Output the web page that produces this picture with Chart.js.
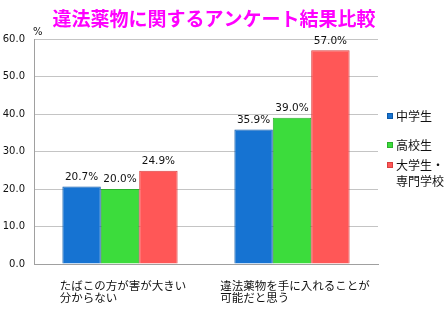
<!DOCTYPE html>
<html>
<head>
<meta charset="utf-8">
<script src="https://cdn.jsdelivr.net/npm/chart.js@4/dist/chart.umd.min.js"></script>
<style>
  html,body{margin:0;padding:0;background:#fff;overflow:hidden;}
  #wrap{width:448px;height:336px;}
</style>
</head>
<body>
<div id="wrap"><canvas id="c" width="448" height="336"></canvas></div>
<script>
// データ
const TITLE = '違法薬物に関するアンケート結果比較';
const categories = [['たばこの方が害が大きい','分からない'], ['違法薬物を手に入れることが','可能だと思う']];
const seriesNames = [['中学生'], ['高校生'], ['大学生・','専門学校']];
const juniorHigh = [20.7, 35.9];
const highSchool = [20.0, 39.0];
const university = [24.9, 57.0];
const yMin = 0, yMax = 60, yStep = 10;
const yUnit = '%';

const COLORS = {
  blue:'#1673d2', blueEdge:'#0d5aa8',
  green:'#3cdc3c', greenEdge:'#2bb02b',
  red:'#ff5757', redEdge:'#d94040',
  grid:'#c4c4c4',
  text:'#111',
  title:'#ff00ff'
};
const JP = '"Noto Sans CJK JP", sans-serif';
const NUM = '"DejaVu Sans", sans-serif';

// タイトル・単位
const titlePlugin = {
  id:'titleText',
  afterDraw(chart){
    const ctx = chart.ctx;
    ctx.save();
    ctx.fillStyle = COLORS.title;
    ctx.font = 'bold 19px ' + JP;
    ctx.textAlign = 'center';
    ctx.textBaseline = 'middle';
    ctx.fillText(TITLE, 214, 19);
    ctx.fillStyle = COLORS.text;
    ctx.font = '10px ' + NUM;
    ctx.textAlign = 'left';
    ctx.fillText(yUnit, 33, 32);
    ctx.restore();
  }
};

// 値ラベル
const valuePlugin = {
  id:'valueLabels',
  afterDatasetsDraw(chart){
    const ctx = chart.ctx;
    ctx.save();
    ctx.fillStyle = COLORS.text;
    ctx.font = '10.5px ' + NUM;
    ctx.textAlign = 'center';
    ctx.textBaseline = 'bottom';
    chart.data.datasets.forEach((ds,i)=>{
      chart.getDatasetMeta(i).data.forEach((bar,j)=>{
        ctx.fillText(ds.data[j].toFixed(1)+'%', bar.x, bar.y-4);
      });
    });
    ctx.restore();
  }
};

// カテゴリラベル (左揃え)
const catPlugin = {
  id:'catLabels',
  afterDraw(chart){
    const ctx = chart.ctx;
    const xs = chart.scales.x;
    ctx.save();
    ctx.fillStyle = COLORS.text;
    ctx.font = '11.5px ' + JP;
    ctx.textAlign = 'left';
    ctx.textBaseline = 'middle';
    categories.forEach((lines,i)=>{
      const cx = xs.getPixelForValue(i);
      const w = Math.max(...lines.map(l=>ctx.measureText(l).width));
      lines.forEach((l,k)=> ctx.fillText(l, cx - w/2 + 3, 286 + k*12));
    });
    ctx.restore();
  }
};

// 凡例
const legendPlugin = {
  id:'sideLegend',
  afterDraw(chart){
    const ctx = chart.ctx;
    const rows = [116, 145, 165];
    ctx.save();
    ctx.font = '12px ' + JP;
    ctx.textBaseline = 'middle';
    chart.data.datasets.forEach((ds,i)=>{
      const y = rows[i];
      ctx.fillStyle = ds.backgroundColor;
      ctx.fillRect(387, y-3, 6, 6);
      ctx.strokeStyle = ds.borderColor;
      ctx.lineWidth = 1;
      ctx.strokeRect(387.5, y-2.5, 5, 5);
      ctx.fillStyle = COLORS.text;
      seriesNames[i].forEach((t,k)=> ctx.fillText(t, 396, y + k*16));
    });
    ctx.restore();
  }
};

new Chart(document.getElementById('c'), {
  type:'bar',
  data:{
    labels:categories.map(l=>l.join('')),
    datasets:[
      {label:seriesNames[0].join(''), data:juniorHigh, backgroundColor:COLORS.blue, borderColor:COLORS.blueEdge, borderWidth:1},
      {label:seriesNames[1].join(''), data:highSchool, backgroundColor:COLORS.green, borderColor:COLORS.greenEdge, borderWidth:1},
      {label:seriesNames[2].join(''), data:university, backgroundColor:COLORS.red, borderColor:COLORS.redEdge, borderWidth:1}
    ]
  },
  options:{
    responsive:false,
    animation:false,
    devicePixelRatio:1,
    layout:{padding:{top:39, right:70, left:0, bottom:0}},
    datasets:{bar:{categoryPercentage:0.67, barPercentage:1.0}},
    plugins:{legend:{display:false}, title:{display:false}, tooltip:{enabled:false}},
    scales:{
      x:{
        grid:{display:false},
        border:{display:true, color:'#a0a0a0'},
        ticks:{display:false},
        afterFit:s=>{ s.height = 72; }
      },
      y:{
        min:yMin, max:yMax,
        ticks:{stepSize:yStep, color:COLORS.text, font:{family:NUM, size:10}, padding:9, callback:v=>v.toFixed(1)},
        grid:{color:COLORS.grid, drawTicks:false},
        border:{display:true, color:'#a0a0a0'},
        afterFit:s=>{ s.width = 34; }
      }
    }
  },
  plugins:[titlePlugin, valuePlugin, catPlugin, legendPlugin]
});
</script>
</body>
</html>
